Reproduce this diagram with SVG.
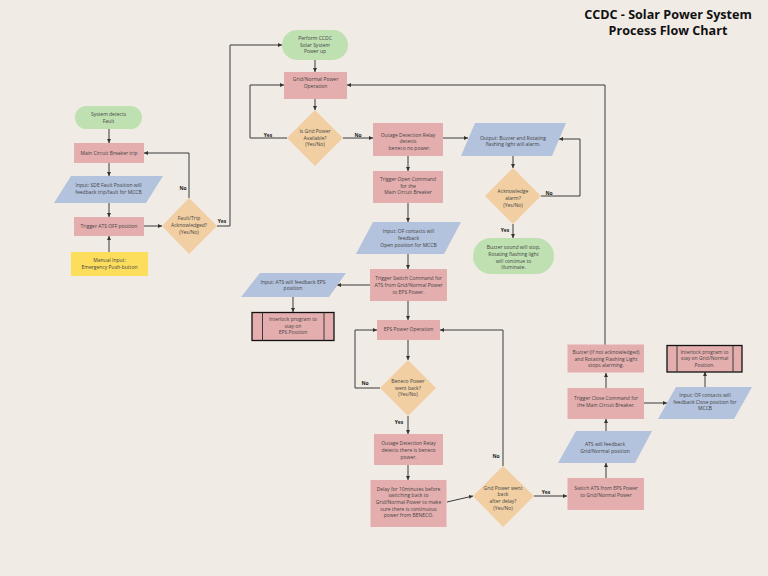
<svg xmlns="http://www.w3.org/2000/svg" width="768" height="576" viewBox="0 0 768 576">
<defs>
<marker id="ah" markerUnits="userSpaceOnUse" markerWidth="4" markerHeight="4" refX="4" refY="2" orient="auto"><path d="M0,0 L4,2 L0,4 z" fill="#333"/></marker>
<style>
.t{font-family:"Open Sans","Liberation Sans",sans-serif;font-size:5px;fill:#444;text-anchor:middle}
.l{font-family:"Open Sans","Liberation Sans",sans-serif;font-size:5px;font-weight:bold;fill:#222;text-anchor:middle}
.ti{font-family:"Open Sans","Liberation Sans",sans-serif;font-size:12.6px;font-weight:bold;fill:#111;text-anchor:middle}
.pk{fill:#e5aeae}
.bl{fill:#b3c2dd}
.gr{fill:#bfe1b2}
.or{fill:#f1cfa2}
.ye{fill:#fddd5c}
.pp{fill:#e5aeae;stroke:#111;stroke-width:1.3}
.ln{fill:none;stroke:#3a3a3a;stroke-width:1}
.c path{fill:none;stroke:#3a3a3a;stroke-width:1;marker-end:url(#ah)}
</style>
</defs>
<rect width="768" height="576" fill="#f0ebe5"/>
<g id="title">
<text class="ti" x="668" y="18.7">CCDC - Solar Power System</text>
<text class="ti" x="668" y="34.5">Process Flow Chart</text>
</g>
<g class="c" id="connectors">
<path d="M315,60 V72"/>
<path d="M315,99 V110"/>
<path d="M287,138 H250 V85 H284"/>
<path d="M343,138 H373"/>
<path d="M443,138 H468"/>
<path d="M408,156 V171"/>
<path d="M513,156 V168"/>
<path d="M541,196 H580 V139 H559"/>
<path d="M513,224 V238"/>
<path d="M109,129 V143"/>
<path d="M109,163 V176"/>
<path d="M109,203 V217"/>
<path d="M109,252 V236"/>
<path d="M144,226 H162"/>
<path d="M189,198 V153 H144"/>
<path d="M217,226 H230 V45 H282"/>
<path d="M408,203 V222"/>
<path d="M408,254 V269"/>
<path d="M370,285 H337"/>
<path d="M293,297 V312"/>
<path d="M408,301 V320"/>
<path d="M408,340 V360"/>
<path d="M380,388 H355 V330 H377"/>
<path d="M408,416 V434"/>
<path d="M408,465 V480"/>
<path d="M447,502 L473,496"/>
<path d="M503,466 V330 H440"/>
<path d="M534,496 H567"/>
<path d="M606,478 V463"/>
<path d="M606,431 V419"/>
<path d="M606,388 V373"/>
<path d="M605,345 V85 H347"/>
<path d="M644,403 H667"/>
<path d="M705,387 V372"/>
</g>
<g id="labels">
<text class="l" x="268" y="136.5">Yes</text>
<text class="l" x="358" y="136.5">No</text>
<text class="l" x="549" y="195">No</text>
<text class="l" x="505" y="232">Yes</text>
<text class="l" x="183" y="190">No</text>
<text class="l" x="222" y="223">Yes</text>
<text class="l" x="365" y="385">No</text>
<text class="l" x="399" y="424">Yes</text>
<text class="l" x="496" y="458">No</text>
<text class="l" x="546" y="494">Yes</text>
</g>
<g id="perform"><rect class="gr" x="282" y="30" width="66" height="30" rx="15"/>
<text class="t" x="315" y="40">Perform CCDC</text><text class="t" x="315" y="46.8">Solar System</text><text class="t" x="315" y="53.3">Power up</text></g>
<g id="grid"><rect class="pk" x="284" y="72" width="63" height="27"/>
<text class="t" x="315.5" y="81.3">Grid/Normal Power</text><text class="t" x="315.5" y="88.3">Operation</text></g>
<g id="isgrid"><polygon class="or" points="315,110 343,138 315,166 287,138"/>
<text class="t" x="315" y="132.8">Is Grid Power</text><text class="t" x="315" y="139.5">Available?</text><text class="t" x="315" y="145.8">(Yes/No)</text></g>
<g id="outage1"><rect class="pk" x="373" y="123" width="70" height="33"/>
<text class="t" x="408" y="137.1">Outage Detection Relay</text><text class="t" x="408" y="142.8">detects</text><text class="t" x="409.5" y="149.5">beneco no power.</text></g>
<g id="triggeropen"><rect class="pk" x="373" y="171" width="70" height="32"/>
<text class="t" x="408" y="180.8">Trigger Open Command</text><text class="t" x="408" y="187.5">for the</text><text class="t" x="408" y="193.8">Main Circuit Breaker</text></g>
<g id="output"><polygon class="bl" points="475,123 566,123 552,156 461,156"/>
<text class="t" x="513" y="140.1">Output: Buzzer and Rotating</text><text class="t" x="513" y="146.1">flashing light will alarm.</text></g>
<g id="ack"><polygon class="or" points="513,168 541,196 513,224 485,196"/>
<text class="t" x="513" y="192.8">Acknowledge</text><text class="t" x="513" y="199.5">alarm?</text><text class="t" x="513" y="206.8">(Yes/No)</text></g>
<g id="buzzerstop"><rect class="gr" x="473" y="238" width="81" height="36" rx="18"/>
<text class="t" x="513.5" y="248.8">Buzzer sound will stop,</text><text class="t" x="513.5" y="256.1">Rotating flashing light</text><text class="t" x="513.5" y="262.8">will continue to</text><text class="t" x="513.5" y="269.1">illuminate.</text></g>
<g id="sysfault"><rect class="gr" x="75" y="106" width="67" height="23" rx="11.5"/>
<text class="t" x="108.5" y="116.1">System detects</text><text class="t" x="108.5" y="122.8">Fault</text></g>
<g id="maincb"><rect class="pk" x="74" y="143" width="70" height="20"/>
<text class="t" x="109" y="154.5">Main Circuit Breaker trip</text></g>
<g id="sde"><polygon class="bl" points="71,176 163,176 146,203 54,203"/>
<text class="t" x="108.5" y="186.8">Input: SDE Fault Position will</text><text class="t" x="108.5" y="193.5">feedback trip/fault for MCCB</text></g>
<g id="triggerats"><rect class="pk" x="74" y="217" width="70" height="19"/>
<text class="t" x="109" y="227.5">Trigger ATS OFF position</text></g>
<g id="faultack"><polygon class="or" points="189,198 217,226 189,254 162,226"/>
<text class="t" x="189" y="220.1">Fault/Trip</text><text class="t" x="189" y="227.1">Acknowledged?</text><text class="t" x="189" y="233.8">(Yes/No)</text></g>
<g id="manual"><rect class="ye" x="71" y="252" width="77" height="24"/>
<text class="t" x="109.5" y="261.8">Manual Input:</text><text class="t" x="109.5" y="268.5">Emergency Push-button</text></g>
<g id="ofopen"><polygon class="bl" points="373,222 461,222 444,254 356,254"/>
<text class="t" x="408.5" y="232.8">Input: OF contacts will</text><text class="t" x="408.5" y="240.1">feedback</text><text class="t" x="408.5" y="246.8">Open position for MCCB</text></g>
<g id="triggerswitch"><rect class="pk" x="370" y="269" width="77" height="32"/>
<text class="t" x="408.5" y="280.1">Trigger Switch Command for</text><text class="t" x="408.5" y="286.8">ATS from Grid/Normal Power</text><text class="t" x="408.5" y="293.5">to EPS Power.</text></g>
<g id="atseps"><polygon class="bl" points="260,273 346,273 329,297 241,297"/>
<text class="t" x="293" y="283.5">Input: ATS will feedback EPS</text><text class="t" x="293" y="290.1">position</text></g>
<g id="interlockeps"><rect class="pp" x="252" y="312.5" width="82" height="28"/>
<path class="ln" d="M262.5,312.5 V340.5 M324,312.5 V340.5" stroke="#111" stroke-width="1.3"/>
<text class="t" x="293" y="321.1">Interlock program to</text><text class="t" x="293" y="327.8">stay on</text><text class="t" x="293" y="333.8">EPS Position</text></g>
<g id="eps"><rect class="pk" x="377" y="320" width="63" height="20"/>
<text class="t" x="408.5" y="331.3">EPS Power Operation</text></g>
<g id="beneco"><polygon class="or" points="408,360 436,388 408,416 380,388"/>
<text class="t" x="408" y="383.1">Beneco Power</text><text class="t" x="408" y="389.8">went back?</text><text class="t" x="408" y="396.1">(Yes/No)</text></g>
<g id="outage2"><rect class="pk" x="374" y="434" width="69" height="31"/>
<text class="t" x="408.5" y="445.1">Outage Detection Relay</text><text class="t" x="408.5" y="452.1">detects there is beneco</text><text class="t" x="408.5" y="458.5">power.</text></g>
<g id="delay"><rect class="pk" x="370.5" y="480" width="76" height="47"/>
<text class="t" x="408.5" y="490.8">Delay for 10minutes before</text><text class="t" x="408.5" y="497.1">switching back to</text><text class="t" x="408.5" y="503.8">Grid/Normal Power to make</text><text class="t" x="408.5" y="510.5">sure there is continuous</text><text class="t" x="408.5" y="516.8">power from BENECO.</text></g>
<g id="gridback"><polygon class="or" points="503,466 534,496 503,527 473,496"/>
<text class="t" x="503" y="490.1">Grid Power went</text><text class="t" x="503" y="495.8">back</text><text class="t" x="503" y="502.8">after delay?</text><text class="t" x="503" y="509.5">(Yes/No)</text></g>
<g id="switchats"><rect class="pk" x="567.5" y="478" width="76.5" height="32"/>
<text class="t" x="606" y="489.5">Switch ATS from EPS Power</text><text class="t" x="606" y="496.8">to Grid/Normal Power</text></g>
<g id="atsgrid"><polygon class="bl" points="576,431 652,431 635,463 558,463"/>
<text class="t" x="605" y="445.8">ATS will feedback</text><text class="t" x="605" y="452.8">Grid/Normal position</text></g>
<g id="triggerclose"><rect class="pk" x="567.5" y="388" width="76.5" height="31"/>
<text class="t" x="606" y="399.5">Trigger Close Command for</text><text class="t" x="606" y="406.8">the Main Circuit Breaker.</text></g>
<g id="ofclose"><polygon class="bl" points="676,387 752,387 734,419 658,419"/>
<text class="t" x="705" y="396.8">Input: OF contacts will</text><text class="t" x="705" y="403.5">feedback Close position for</text><text class="t" x="705" y="410.1">MCCB</text></g>
<g id="buzzer"><rect class="pk" x="567.5" y="344.5" width="76.5" height="28"/>
<text class="t" x="606" y="354.1">Buzzer (If not acknowledged)</text><text class="t" x="606" y="360.5">and Rotating Flashing Light</text><text class="t" x="606" y="366.8">stops alarming.</text></g>
<g id="interlockgrid"><rect class="pp" x="667" y="345.5" width="75" height="26.5"/>
<path class="ln" d="M677,345.5 V372 M733,345.5 V372" stroke="#111" stroke-width="1.3"/>
<text class="t" x="704.5" y="354.1">Interlock program to</text><text class="t" x="704.5" y="360.1">stay on Grid/Normal</text><text class="t" x="704.5" y="366.8">Position.</text></g>
</svg>
